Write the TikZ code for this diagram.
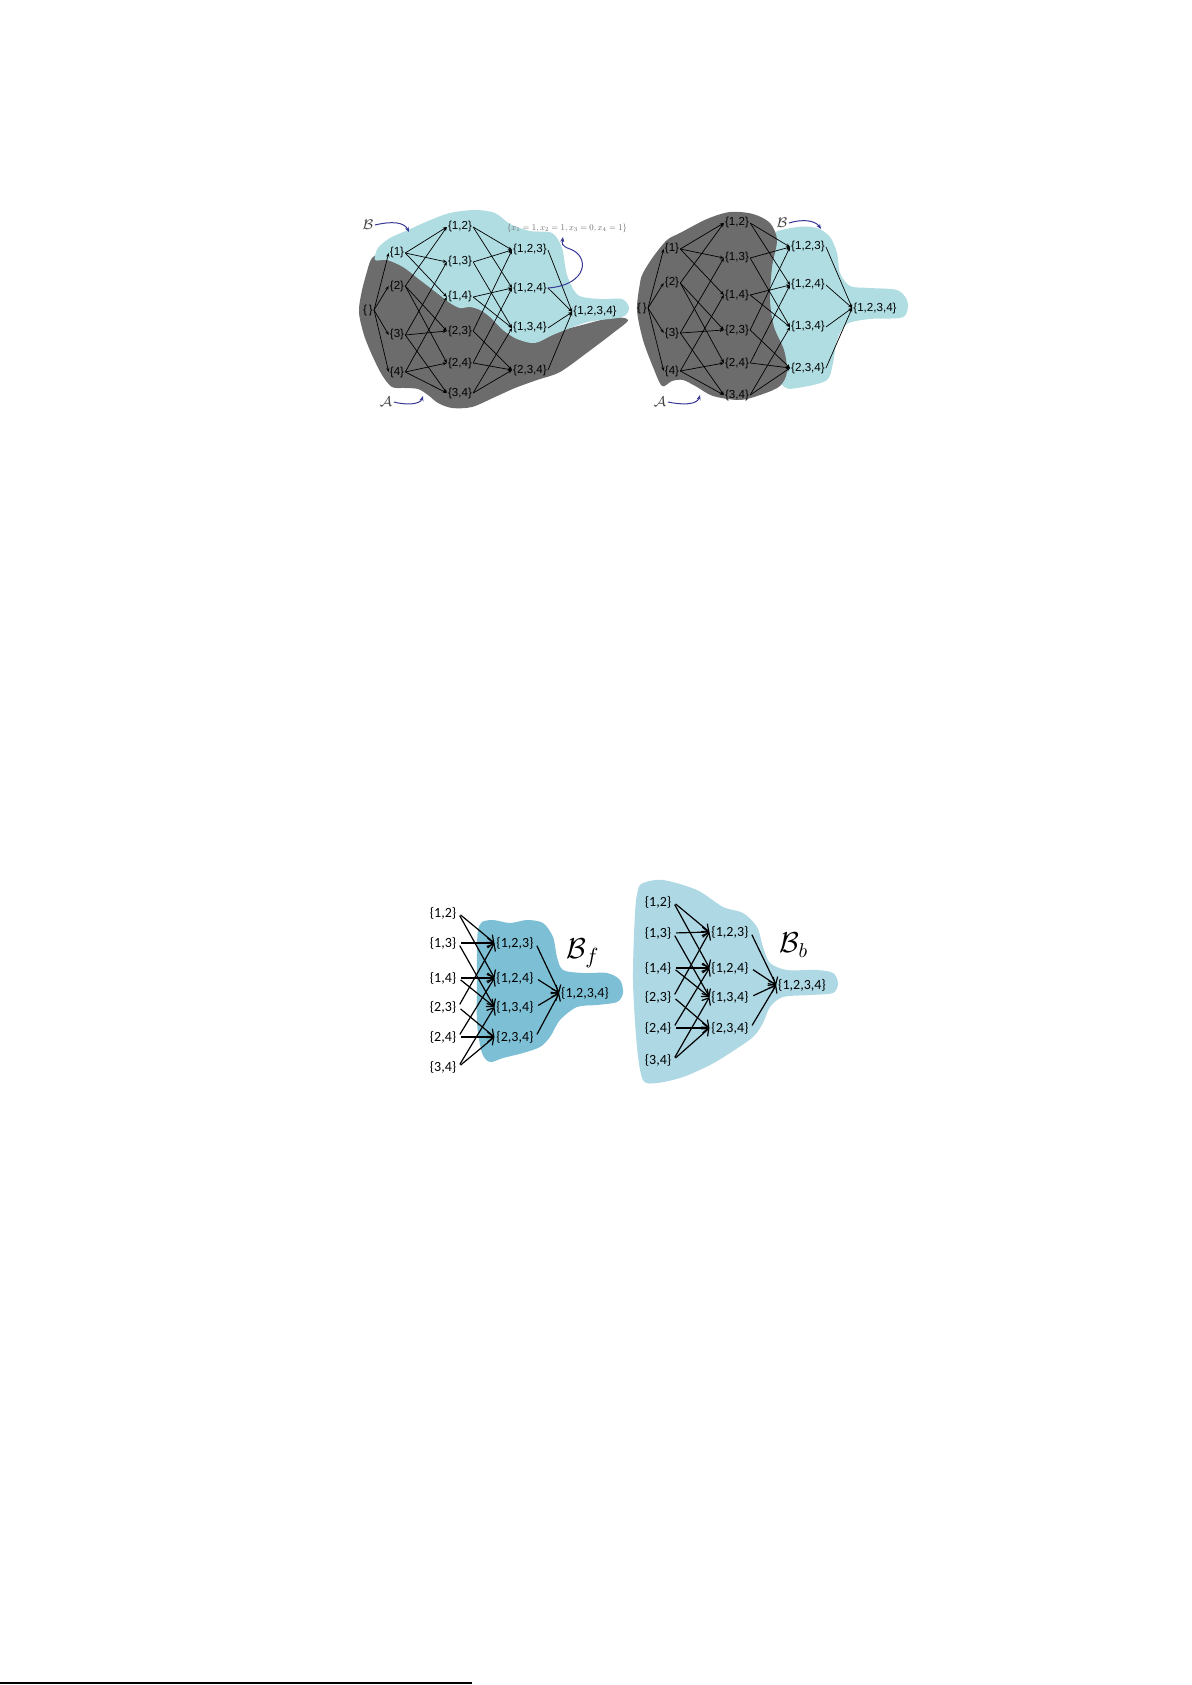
\documentclass[tikz,border=0pt]{standalone}
\usepackage{graphicx}
\usepackage{fontspec}
\newfontfamily\arialfont{Liberation Sans}
\newfontfamily\calibrifont{Carlito}
\usetikzlibrary{arrows.meta}
\definecolor{bcyan}{RGB}{176,221,226}
\definecolor{agrey}{RGB}{108,108,108}
\definecolor{bfblue}{RGB}{125,192,214}
\definecolor{bbblue}{RGB}{173,216,228}
\definecolor{annot}{RGB}{55,55,150}
\tikzset{
  set/.style={font=\fontsize{5.8}{6}\selectfont\arialfont, inner sep=0.4pt},
  bigset/.style={font=\fontsize{7}{8}\selectfont\calibrifont, inner sep=0.8pt},
  hasse/.style={-{Stealth[length=2pt,width=1.6pt]}, line width=0.35pt},
  cover/.style={-{Straight Barb[length=3pt,width=5pt]}, line width=0.6pt, shorten <=1.5pt},
  pointer/.style={-{Stealth[length=2.5pt,width=2pt]}, line width=0.5pt, draw=annot},
  family/.style={font=\fontsize{7}{8}\selectfont, text=black!75, inner sep=0.5pt}
}
\begin{document}
\begin{tikzpicture}[x=0.5pt,y=-0.5pt]
\useasboundingbox (0,0) rectangle (1192,1685);

% top left: A below, B above
\fill [agrey] plot [smooth cycle] coordinates {(372,258) (366,275) (361,295) (359,313) (364,335) (372,355) (382,375) (392,387) (405,388) (418,389) (428,395) (438,403) (452,408) (472,407) (495,397) (515,388) (537,380) (560,372) (588,352) (613,333) (628,320) (610,318) (560,330) (520,330) (480,300) (430,275) (400,255) (385,252)};
\fill [bcyan] plot [smooth cycle] coordinates {(375,260) (378,248) (390,238) (408,230) (428,221) (450,213) (475,210) (495,213) (510,224) (530,231) (552,233) (562,248) (567,275) (578,295) (600,299) (622,299) (629,308) (622,317) (588,322) (555,334) (535,343) (517,339) (503,330) (490,317) (480,310) (470,307) (460,308) (450,303) (437,293) (420,280) (403,267) (387,260)};

% top right: B behind, A in front
\fill [bcyan] plot [smooth cycle] coordinates {(770,235) (797,227) (817,228) (830,237) (837,253) (840,273) (850,286) (870,288) (897,290) (907,300) (907,312) (900,318) (870,319) (847,324) (837,340) (833,363) (827,380) (803,387) (783,386) (775,350) (765,300) (765,260)};
\fill [agrey] plot [smooth cycle] coordinates {(640,283) (637,310) (643,340) (653,367) (662,386) (672,381) (683,380) (697,387) (713,396) (740,400) (763,394) (780,386) (787,372) (784,350) (774,327) (770,300) (772,267) (777,240) (770,223) (753,214) (730,212) (707,219) (680,233) (667,240) (653,257) (643,273)};

% bottom: B_f and B_b
\fill [bfblue] plot [smooth cycle] coordinates {(482,922) (493,920) (510,923) (527,920) (543,923) (553,937) (557,957) (563,970) (583,973) (607,973) (620,980) (623,993) (617,1002) (597,1005) (577,1007) (560,1020) (550,1037) (540,1047) (523,1053) (503,1058) (490,1062) (482,1053) (477,1023) (477,980) (477,947) (478,930)};
\fill [bbblue] plot [smooth cycle] coordinates {(643,883) (663,880) (697,890) (723,907) (743,913) (757,927) (763,947) (770,963) (787,970) (817,970) (833,973) (838,983) (833,993) (810,995) (783,997) (770,1007) (763,1023) (753,1037) (730,1053) (710,1065) (683,1077) (657,1083) (643,1080) (637,1047) (633,980) (635,913) (638,890)};

% top left lattice
\node (aE) [set] at (368,310) {\{\,\}};
\node (a1) [set] at (397,253) {\{1\}};
\node (a2) [set] at (397,286) {\{2\}};
\node (a3) [set] at (397,335) {\{3\}};
\node (a4) [set] at (397,372) {\{4\}};
\node (a12) [set] at (460,227) {\{1,2\}};
\node (a13) [set] at (460,262) {\{1,3\}};
\node (a14) [set] at (460,297) {\{1,4\}};
\node (a23) [set] at (460,331) {\{2,3\}};
\node (a24) [set] at (460,363) {\{2,4\}};
\node (a34) [set] at (460,393) {\{3,4\}};
\node (a123) [set] at (530,250) {\{1,2,3\}};
\node (a124) [set] at (530,288) {\{1,2,4\}};
\node (a134) [set] at (530,328) {\{1,3,4\}};
\node (a234) [set] at (530,370) {\{2,3,4\}};
\node (a1234) [set] at (595,312) {\{1,2,3,4\}};
\draw [hasse] (aE.east) -- (a1.west); \draw [hasse] (aE.east) -- (a2.west);
\draw [hasse] (aE.east) -- (a3.west); \draw [hasse] (aE.east) -- (a4.west);
\draw [hasse] (a1.east) -- (a12.west); \draw [hasse] (a1.east) -- (a13.west); \draw [hasse] (a1.east) -- (a14.west);
\draw [hasse] (a2.east) -- (a12.west); \draw [hasse] (a2.east) -- (a23.west); \draw [hasse] (a2.east) -- (a24.west);
\draw [hasse] (a3.east) -- (a13.west); \draw [hasse] (a3.east) -- (a23.west); \draw [hasse] (a3.east) -- (a34.west);
\draw [hasse] (a4.east) -- (a14.west); \draw [hasse] (a4.east) -- (a24.west); \draw [hasse] (a4.east) -- (a34.west);
\draw [hasse] (a12.east) -- (a123.west); \draw [hasse] (a12.east) -- (a124.west);
\draw [hasse] (a13.east) -- (a123.west); \draw [hasse] (a13.east) -- (a134.west);
\draw [hasse] (a14.east) -- (a124.west); \draw [hasse] (a14.east) -- (a134.west);
\draw [hasse] (a23.east) -- (a123.west); \draw [hasse] (a23.east) -- (a234.west);
\draw [hasse] (a24.east) -- (a124.west); \draw [hasse] (a24.east) -- (a234.west);
\draw [hasse] (a34.east) -- (a134.west); \draw [hasse] (a34.east) -- (a234.west);
\draw [hasse] (a123.east) -- (a1234.west); \draw [hasse] (a124.east) -- (a1234.west);
\draw [hasse] (a134.east) -- (a1234.west); \draw [hasse] (a234.east) -- (a1234.west);
\node (aB) [family] at (368,225) {$\mathcal{B}$};
\node (aA) [family] at (386,402) {$\mathcal{A}$};
\node (assign) [text=black!60, inner sep=0.5pt] at (567,228) {\resizebox{60pt}{!}{$\{x_1=1, x_2=1, x_3=0, x_4=1\}$}};
\coordinate (aBtip) at (409,232);
\coordinate (aAtip) at (423,396);
\coordinate (assigntip) at (563,237);
\draw [pointer] (aB.east) .. controls (392,221) and (404,222) .. (aBtip);
\draw [pointer] (aA.east) .. controls (405,405) and (420,405) .. (aAtip);
\draw [pointer] (a124.east) .. controls (588,285) and (590,256) .. (570,249) .. controls (561,246) and (562,243) .. (assigntip);

% top right lattice
\node (bE) [set] at (642,308) {\{\,\}};
\node (b1) [set] at (672,249) {\{1\}};
\node (b2) [set] at (672,283) {\{2\}};
\node (b3) [set] at (672,333) {\{3\}};
\node (b4) [set] at (672,371) {\{4\}};
\node (b12) [set] at (737,223) {\{1,2\}};
\node (b13) [set] at (737,258) {\{1,3\}};
\node (b14) [set] at (737,295) {\{1,4\}};
\node (b23) [set] at (737,330) {\{2,3\}};
\node (b24) [set] at (737,363) {\{2,4\}};
\node (b34) [set] at (737,395) {\{3,4\}};
\node (b123) [set] at (808,247) {\{1,2,3\}};
\node (b124) [set] at (808,285) {\{1,2,4\}};
\node (b134) [set] at (808,327) {\{1,3,4\}};
\node (b234) [set] at (808,368) {\{2,3,4\}};
\node (b1234) [set] at (875,308) {\{1,2,3,4\}};
\draw [hasse] (bE.east) -- (b1.west); \draw [hasse] (bE.east) -- (b2.west);
\draw [hasse] (bE.east) -- (b3.west); \draw [hasse] (bE.east) -- (b4.west);
\draw [hasse] (b1.east) -- (b12.west); \draw [hasse] (b1.east) -- (b13.west); \draw [hasse] (b1.east) -- (b14.west);
\draw [hasse] (b2.east) -- (b12.west); \draw [hasse] (b2.east) -- (b23.west); \draw [hasse] (b2.east) -- (b24.west);
\draw [hasse] (b3.east) -- (b13.west); \draw [hasse] (b3.east) -- (b23.west); \draw [hasse] (b3.east) -- (b34.west);
\draw [hasse] (b4.east) -- (b14.west); \draw [hasse] (b4.east) -- (b24.west); \draw [hasse] (b4.east) -- (b34.west);
\draw [hasse] (b12.east) -- (b123.west); \draw [hasse] (b12.east) -- (b124.west);
\draw [hasse] (b13.east) -- (b123.west); \draw [hasse] (b13.east) -- (b134.west);
\draw [hasse] (b14.east) -- (b124.west); \draw [hasse] (b14.east) -- (b134.west);
\draw [hasse] (b23.east) -- (b123.west); \draw [hasse] (b23.east) -- (b234.west);
\draw [hasse] (b24.east) -- (b124.west); \draw [hasse] (b24.east) -- (b234.west);
\draw [hasse] (b34.east) -- (b134.west); \draw [hasse] (b34.east) -- (b234.west);
\draw [hasse] (b123.east) -- (b1234.west); \draw [hasse] (b124.east) -- (b1234.west);
\draw [hasse] (b134.east) -- (b1234.west); \draw [hasse] (b234.east) -- (b1234.west);
\node (bB) [family] at (782,223) {$\mathcal{B}$};
\node (bA) [family] at (660,402) {$\mathcal{A}$};
\coordinate (bBtip) at (821,229);
\coordinate (bAtip) at (700,395);
\draw [pointer] (bB.east) .. controls (802,219) and (815,220) .. (bBtip);
\draw [pointer] (bA.east) .. controls (682,405) and (697,405) .. (bAtip);

% bottom left: forward family
\node (f12) [bigset] at (443,913) {\{1,2\}};
\node (f13) [bigset] at (443,943) {\{1,3\}};
\node (f14) [bigset] at (443,978) {\{1,4\}};
\node (f23) [bigset] at (443,1007) {\{2,3\}};
\node (f24) [bigset] at (443,1037) {\{2,4\}};
\node (f34) [bigset] at (443,1067) {\{3,4\}};
\node (f123) [bigset] at (515,943) {\{1,2,3\}};
\node (f124) [bigset] at (515,978) {\{1,2,4\}};
\node (f134) [bigset] at (515,1007) {\{1,3,4\}};
\node (f234) [bigset] at (515,1037) {\{2,3,4\}};
\node (f1234) [bigset] at (585,993) {\{1,2,3,4\}};
\draw [cover] (f12.east) -- (f123.west); \draw [cover] (f12.east) -- (f124.west);
\draw [cover] (f13.east) -- (f123.west); \draw [cover] (f13.east) -- (f134.west);
\draw [cover] (f14.east) -- (f124.west); \draw [cover] (f14.east) -- (f134.west);
\draw [cover] (f23.east) -- (f123.west); \draw [cover] (f23.east) -- (f234.west);
\draw [cover] (f24.east) -- (f124.west); \draw [cover] (f24.east) -- (f234.west);
\draw [cover] (f34.east) -- (f134.west); \draw [cover] (f34.east) -- (f234.west);
\draw [cover] (f123.east) -- (f1234.west); \draw [cover] (f124.east) -- (f1234.west);
\draw [cover] (f134.east) -- (f1234.west); \draw [cover] (f234.east) -- (f1234.west);
\node (Bf) [font=\fontsize{15}{16}\selectfont] at (583,953) {$\mathcal{B}_f$};

% bottom right: backward family
\node (g12) [bigset] at (658,902) {\{1,2\}};
\node (g13) [bigset] at (658,933) {\{1,3\}};
\node (g14) [bigset] at (658,968) {\{1,4\}};
\node (g23) [bigset] at (658,997) {\{2,3\}};
\node (g24) [bigset] at (658,1028) {\{2,4\}};
\node (g34) [bigset] at (658,1060) {\{3,4\}};
\node (g123) [bigset] at (730,932) {\{1,2,3\}};
\node (g124) [bigset] at (730,968) {\{1,2,4\}};
\node (g134) [bigset] at (730,997) {\{1,3,4\}};
\node (g234) [bigset] at (730,1028) {\{2,3,4\}};
\node (g1234) [bigset] at (802,985) {\{1,2,3,4\}};
\draw [cover] (g12.east) -- (g123.west); \draw [cover] (g12.east) -- (g124.west);
\draw [cover] (g13.east) -- (g123.west); \draw [cover] (g13.east) -- (g134.west);
\draw [cover] (g14.east) -- (g124.west); \draw [cover] (g14.east) -- (g134.west);
\draw [cover] (g23.east) -- (g123.west); \draw [cover] (g23.east) -- (g234.west);
\draw [cover] (g24.east) -- (g124.west); \draw [cover] (g24.east) -- (g234.west);
\draw [cover] (g34.east) -- (g134.west); \draw [cover] (g34.east) -- (g234.west);
\draw [cover] (g123.east) -- (g1234.west); \draw [cover] (g124.east) -- (g1234.west);
\draw [cover] (g134.east) -- (g1234.west); \draw [cover] (g234.east) -- (g1234.west);
\node (Bb) [font=\fontsize{14}{15}\selectfont] at (794,945) {$\mathcal{B}_b$};

% footer rule
\draw [line width=1pt] (0,1683) -- (472,1683);
\end{tikzpicture}
\end{document}
